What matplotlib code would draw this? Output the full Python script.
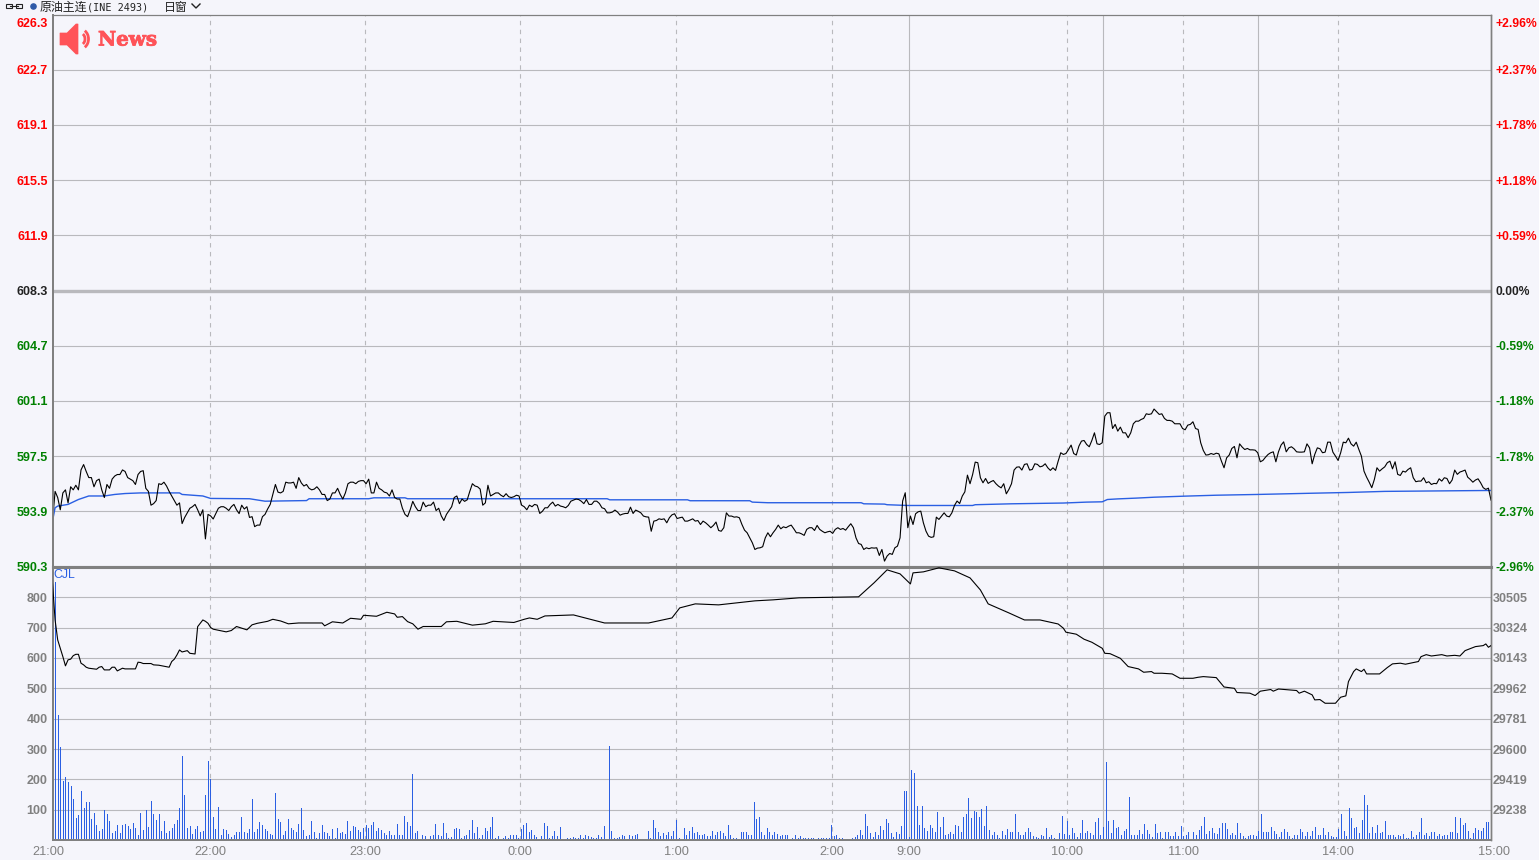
import numpy as np
import matplotlib
matplotlib.use('Agg')
import matplotlib.pyplot as plt
import matplotlib.patheffects as pe
from matplotlib.patches import Polygon, Arc, Rectangle, Circle
from matplotlib.transforms import ScaledTranslation

plt.rcParams['font.family'] = ['Liberation Sans', 'DejaVu Sans']

# ---- axis labels ----
price_ticks = [626.3, 622.7, 619.1, 615.5, 611.9, 608.3, 604.7, 601.1, 597.5, 593.9, 590.3]
pct_labels = ['+2.96%', '+2.37%', '+1.78%', '+1.18%', '+0.59%', '0.00%',
              '-0.59%', '-1.18%', '-1.78%', '-2.37%', '-2.96%']
vol_ticks = [100, 200, 300, 400, 500, 600, 700, 800]
oi_ticks = [29238, 29419, 29600, 29781, 29962, 30143, 30324, 30505]
time_minutes = [0, 60.9, 120.7, 180.4, 240.7, 300.7, 330.4, 391.4, 436.2, 495.8, 555]
time_labels = ['21:00', '22:00', '23:00', '0:00', '1:00', '2:00', '9:00', '10:00', '11:00', '14:00', '15:00']
dashed_minutes = [60.9, 120.7, 180.4, 240.7, 300.7, 391.4, 436.2, 495.8]
session_minutes = [330.4, 405.4, 465.2]

# ---- price, one value per minute ----
price_a = [593.26, 595.2, 594.8, 594.0, 595.1, 595.3, 594.45, 595.5, 595.3, 595.6,
           595.3, 596.6, 596.95, 596.5, 596.1, 596.1, 595.5, 595.9, 596.0, 595.3,
           594.8, 595.65, 595.4, 596.0, 596.2, 596.3, 596.3, 596.6, 596.5, 596.1,
           596.0, 595.9, 595.65, 596.3, 596.5, 596.55, 595.4, 595.2, 594.3, 594.4,
           594.6, 595.7, 595.65, 595.8, 595.55, 595.2, 594.9, 594.6, 594.3, 594.45,
           593.1, 593.5, 593.8, 594.1, 594.2, 594.35, 594.0, 593.6, 594.0, 592.1,
           593.7, 593.6, 593.4, 593.75, 594.1, 594.2, 594.2, 594.1, 593.95, 594.2,
           594.35, 594.0, 593.75, 594.3, 594.05, 594.2, 593.5, 593.55, 592.9, 593.0,
           593.0, 593.55, 593.7, 594.05, 594.35, 595.0, 595.65, 595.15, 595.1, 595.2,
           595.8, 595.75, 595.75, 595.8, 595.4, 596.1, 595.75, 595.55, 595.65, 595.4,
           595.3, 595.35, 595.5, 595.3, 595.0, 595.0, 594.6, 594.7, 595.1, 595.1,
           595.4, 595.0, 594.7, 595.1, 595.7, 595.8, 595.8, 595.7, 595.85, 595.9,
           595.9, 595.7, 596.0, 595.1, 595.1, 595.8, 595.4, 595.3, 595.15, 595.1,
           594.9, 595.3, 594.8, 594.7, 594.7, 594.1, 593.7, 593.55, 594.0, 594.55,
           594.2, 593.95, 593.95, 594.5, 594.2, 594.3, 594.3, 594.5, 593.95, 594.1,
           593.6, 593.3, 593.7, 593.95, 594.2, 594.8, 594.9, 594.4, 594.7, 594.55,
           594.65, 595.2, 595.7, 595.55, 595.5, 595.35, 594.3, 594.45, 595.6, 594.9,
           595.0, 595.1, 595.1, 594.95, 594.85, 595.05, 594.85, 594.8, 594.85, 594.95,
           594.9, 594.3, 594.2, 594.0, 594.3, 594.2, 594.35, 594.3]
price_b = [593.76, 593.9, 594.13, 594.13, 594.35, 594.5, 594.24, 594.35, 594.24, 594.2,
           594.13, 594.28, 594.56, 594.63, 594.7, 594.67, 594.56, 594.4, 594.67, 594.35,
           594.35, 594.56, 594.56, 594.41, 594.13, 594.07, 593.8, 593.8, 593.85, 593.98,
           593.85, 593.65, 593.72, 593.76, 593.76, 594.17, 593.76, 593.98, 593.9, 593.8,
           593.59, 593.54, 593.52, 592.6, 593.26, 593.3, 593.41, 593.37, 593.41, 593.15,
           593.48, 593.67, 593.74, 593.43, 593.48, 593.52, 593.26, 593.26, 593.33, 593.41,
           593.26, 593.3, 593.04, 593.26, 593.15, 593.0, 592.83, 592.98, 593.2, 592.65,
           592.6, 592.83, 593.8, 593.59, 593.59, 593.52, 593.54, 593.48, 593.04, 592.67,
           592.5, 592.17, 591.85, 591.41, 591.5, 591.52, 591.59, 592.17, 592.5, 592.24,
           592.5, 592.72, 593.0, 592.76, 592.89, 592.83, 592.93, 593.0, 592.76, 592.5,
           592.5, 592.43, 592.33, 592.72, 592.83, 592.83, 592.65, 592.98, 592.72, 592.6,
           592.5, 592.56, 592.6, 592.46, 592.72, 592.83, 592.72, 592.78, 592.67, 592.89,
           593.09, 592.83, 592.17, 591.8, 591.74, 591.41, 591.52, 591.46, 591.52, 591.5,
           591.52, 591.02, 591.41, 590.65, 590.98, 591.15, 591.09, 591.52, 591.63]
price_c = [592.17, 594.57, 595.11, 592.83, 593.59, 593.04, 593.74, 593.87, 593.91, 593.15,
           592.61, 592.28, 592.2, 592.24, 593.52, 593.37, 593.59, 593.8, 593.59, 593.54,
           593.8, 594.28, 594.57, 594.41, 594.89, 595.17, 596.26, 595.7, 596.3, 597.11,
           597.07, 596.09, 595.76, 596.04, 595.72, 595.83, 595.91, 595.7, 595.54, 595.43,
           595.7, 595.04, 595.33, 595.7, 596.59, 596.78, 596.8, 596.59, 596.96, 597.0,
           596.59, 596.63, 597.0, 596.96, 596.8, 596.85, 597.0, 596.74, 596.57, 596.74,
           596.57, 597.17, 597.72, 597.61, 597.67, 597.93, 598.22, 597.67, 597.57, 598.15,
           598.48, 598.52, 598.26, 598.11, 598.52, 599.02, 598.3, 598.26, 598.37]
price_d = [600.11, 600.33, 600.33, 599.3, 599.57, 599.13, 599.39, 599.02, 599.02, 598.7,
           599.02, 599.61, 599.78, 599.78, 599.89, 599.96, 600.26, 600.22, 600.26, 600.57,
           600.39, 600.22, 600.26, 599.96, 599.83, 599.83, 599.78, 599.61, 599.61, 599.61,
           599.3, 599.22, 599.52, 599.57, 599.74, 599.3, 599.24, 598.37, 597.87, 597.57,
           597.59, 597.67, 597.61, 597.69, 597.65, 597.17, 596.74, 597.39, 597.57, 598.0,
           598.13, 597.39, 598.3, 598.09, 597.93, 598.0, 597.91, 597.91, 597.89, 597.72,
           597.13, 597.22, 597.43, 597.61, 597.72, 597.78, 597.13, 597.78, 598.22, 598.43,
           597.78, 598.04, 598.11]
price_e = [597.98, 597.78, 597.76, 597.76, 597.78, 598.3, 598.04, 597.0, 597.61, 598.04,
           597.98, 597.72, 597.76, 598.41, 598.41, 597.76, 597.5, 597.22, 597.72, 598.41,
           598.37, 598.67, 598.3, 598.15, 598.41, 597.94, 597.5, 596.52, 596.13, 595.8,
           595.44, 595.98, 596.74, 596.52, 596.67, 596.8, 597.07, 597.17, 596.67, 597.13,
           596.31, 596.24, 596.52, 596.46, 596.63, 596.74, 596.09, 595.83, 595.87, 595.87,
           596.09, 595.76, 595.83, 595.65, 595.72, 595.7, 596.02, 595.87, 596.09, 596.04,
           595.7, 595.94, 596.59, 596.31, 596.46, 596.52, 596.59, 596.13, 595.98, 595.8,
           595.94, 596.02, 595.76, 595.44, 595.33, 595.41, 594.63]
price = price_a + price_b + price_c + price_d + price_e

# ---- average price line ----
avg_minutes = [0, 1, 2, 6, 10, 14, 20, 24, 28, 34, 49, 50, 58, 61, 76, 82, 98, 99, 122, 124,
               136, 137, 214, 215, 245, 246, 269, 270, 276, 312, 313, 321, 322, 330, 355, 356,
               370, 390, 399, 405, 407, 411, 418, 425, 437, 449, 465, 486, 500, 514, 555]
avg_price = [593.26, 594.13, 594.24, 594.35, 594.67, 594.9, 594.9, 595.0, 595.06, 595.1,
             595.1, 595.0, 594.9, 594.74, 594.72, 594.56, 594.6, 594.72, 594.72, 594.78,
             594.78, 594.72, 594.72, 594.65, 594.65, 594.59, 594.59, 594.5, 594.46, 594.46,
             594.39, 594.37, 594.33, 594.28, 594.28, 594.33, 594.39, 594.44, 594.5, 594.52,
             594.67, 594.71, 594.76, 594.82, 594.89, 594.95, 595.0, 595.08, 595.13, 595.2,
             595.26]

# ---- open interest (right scale) ----
oi_min_a = [0, 1, 2, 3, 4, 5, 6, 7, 8, 9, 10, 11, 12, 13, 14, 17, 18, 19, 20, 22,
            23, 24, 25, 27, 28, 32, 33, 34, 35, 38, 39, 41, 45, 46, 47, 48, 49, 50, 52, 53,
            55, 56, 57, 58, 59, 60, 61, 62, 65, 67, 69, 71, 73, 75, 77, 79, 83, 85, 88, 91,
            95, 104, 105, 108, 112, 115, 119, 120, 125, 129, 132, 133, 135, 137, 139, 141, 143, 150, 152, 156,
            162, 167, 170, 178, 182, 184, 187]
oi_val_a = [30589, 30370, 30251, 30201, 30151, 30096, 30132, 30136, 30157, 30165, 30165, 30112, 30102, 30088, 30082, 30076, 30088, 30092, 30072, 30072,
            30088, 30088, 30066, 30082, 30078, 30078, 30118, 30116, 30110, 30110, 30102, 30100, 30088, 30122, 30136, 30161, 30191, 30179, 30187, 30171,
            30167, 30330, 30350, 30370, 30362, 30350, 30325, 30315, 30305, 30299, 30307, 30331, 30321, 30311, 30341, 30350, 30362, 30374, 30364, 30347,
            30352, 30352, 30335, 30359, 30352, 30380, 30374, 30398, 30392, 30416, 30406, 30386, 30390, 30360, 30347, 30315, 30331, 30331, 30359, 30362,
            30339, 30347, 30362, 30355, 30374, 30382, 30374]
oi_min_b = [190, 201, 213, 230, 239, 242, 248, 257, 271, 278, 288, 311, 317, 322, 327, 331, 332, 336, 342, 348,
            354, 358, 361, 369, 375, 381, 388]
oi_val_b = [30394, 30400, 30352, 30352, 30382, 30442, 30466, 30460, 30484, 30490, 30502, 30508, 30592, 30669, 30645, 30585, 30651, 30657, 30681, 30663,
            30621, 30549, 30466, 30412, 30370, 30370, 30346]
oi_min_c = [390, 391, 395, 398, 401, 405, 406, 408, 412, 415, 419, 421, 424, 425, 428, 432, 435, 440, 442, 444,
            449, 452, 456, 457, 462, 464, 466, 470, 471, 473, 480, 481, 483, 486, 487, 489, 491, 495, 497, 499,
            500, 502, 503, 505, 506, 507, 512, 515, 517, 520, 522, 527, 528, 530, 532, 536, 538, 541, 543, 545,
            549, 552, 553, 554, 555]
oi_val_c = [30321, 30297, 30285, 30255, 30237, 30201, 30171, 30169, 30141, 30092, 30078, 30058, 30062, 30052, 30052, 30048, 30022, 30022, 30028, 30032,
            30026, 29970, 29962, 29937, 29933, 29919, 29945, 29955, 29945, 29958, 29949, 29933, 29945, 29923, 29893, 29895, 29873, 29873, 29909, 29917,
            30002, 30062, 30078, 30062, 30076, 30048, 30048, 30086, 30108, 30112, 30106, 30122, 30151, 30163, 30155, 30163, 30155, 30159, 30155, 30187,
            30211, 30217, 30227, 30207, 30217]
oi_minutes = oi_min_a + oi_min_b + oi_min_c
oi_values = oi_val_a + oi_val_b + oi_val_c

# ---- volume, one bar per minute ----
vol_a = [80, 850, 412, 305, 195, 207, 190, 178, 135, 72, 82, 162, 105, 125, 125, 70, 90, 50, 30, 35,
         98, 85, 62, 22, 30, 50, 22, 48, 52, 45, 35, 55, 40, 15, 88, 32, 98, 42, 128, 85,
         65, 85, 30, 62, 22, 30, 40, 52, 65, 105, 278, 148, 40, 45, 20, 35, 45, 25, 30, 148,
         262, 200, 75, 35, 108, 15, 35, 33, 20, 10, 18, 25, 25, 75, 25, 22, 35, 135, 25, 35,
         60, 48, 35, 30, 20, 15, 155, 68, 58, 15, 30, 68, 38, 32, 25, 52, 105, 32, 12, 15,
         62, 25, 5, 22, 48, 25, 22, 12, 35, 5, 38, 22, 25, 20, 62, 30, 45, 42, 32, 25,
         40, 48, 40, 48, 58, 30, 38, 32, 22, 15, 30, 15, 18, 52, 15, 15, 78, 58, 45, 218,
         22, 30, 3, 15, 12, 3, 12, 18, 52, 18, 12, 55, 22, 8, 10, 35, 38, 35, 8, 12,
         15, 32, 65, 22, 42, 8, 15, 38, 30, 42, 75, 8, 12, 3, 8, 12, 5, 15, 18, 15, 8]
vol_b = [35, 50, 55, 28, 33, 15, 10, 3, 12, 55, 45, 8, 12, 30, 12, 42, 3, 3, 8, 8,
         10, 8, 8, 15, 8, 15, 12, 10, 8, 8, 15, 10, 45, 3, 310, 30, 8, 8, 10, 18,
         12, 3, 18, 12, 15, 20, 3, 3, 3, 30, 8, 65, 38, 25, 12, 22, 18, 25, 12, 30,
         65, 8, 3, 38, 15, 30, 42, 22, 25, 15, 15, 20, 12, 12, 30, 18, 28, 30, 22, 12,
         48, 18, 8, 5, 3, 25, 25, 25, 18, 18, 125, 68, 75, 25, 15, 38, 28, 18, 28, 20,
         12, 15, 15, 18, 3, 8, 18, 8, 12, 8, 8, 8, 8, 8, 3, 8, 8, 8, 8, 5,
         48, 12, 15, 5, 8, 3, 3, 3, 8, 10, 18, 33, 15, 85, 45, 22, 10, 25, 15, 45,
         33, 70, 55, 22, 10, 28, 20, 45, 162, 162, 10, 232, 222, 112, 48, 112, 38, 30, 48, 38,
         25, 92, 42, 75, 18, 20, 25, 20, 50, 45, 25, 75, 85, 140, 72, 95, 92, 75, 102, 45,
         112, 33, 18, 28, 18, 5, 30, 15, 35, 25, 28, 85, 25, 18, 18, 25, 38]
vol_c = [25, 12, 10, 5, 15, 12, 38, 10, 15, 5, 3, 22, 80, 20, 62, 15, 38, 22, 10, 22,
         65, 22, 30, 22, 15, 60, 72, 15, 42, 258, 62, 22, 65, 38, 42, 15, 30, 35, 142, 15,
         15, 18, 33, 20, 52, 33, 20, 10, 52, 22, 28, 8, 25, 28, 12, 12, 25, 12, 45, 12,
         15, 28, 3, 25, 18, 33, 45, 75, 20, 30, 38, 22, 20, 38, 55, 55, 35, 15, 22, 18,
         55, 22, 12, 5, 12, 15, 15, 12, 30, 85, 28, 28, 28, 42, 30, 20, 10, 25, 35, 28,
         12, 8, 15, 15, 35, 25, 12, 28, 12, 30, 42, 15, 15, 38, 15, 25, 12, 10, 10, 35,
         85, 30, 12, 105, 72, 38, 42, 22, 65, 148, 115, 22, 42, 22, 48, 22, 25, 62, 18, 15,
         18, 10, 15, 12, 20, 8, 5, 30, 10, 18, 25, 72, 18, 22, 12, 28, 28, 12, 20, 12,
         15, 15, 28, 25, 75, 22, 72, 50, 55, 30, 8, 22, 38, 32, 30, 38, 60, 60, 181]
volume = vol_a + vol_b + vol_c

price_x = np.arange(len(price))
vol_x = np.linspace(0, 555, len(volume))

BG = '#f5f5fb'
GRID = '#b9b9bd'
AXIS = '#808080'
BLUE = '#2a5fe3'
W, H = 1539, 860

fig = plt.figure(figsize=(W / 100, H / 100), dpi=100, facecolor=BG)

def make_axes(left, top, right, bottom):
    return fig.add_axes([left / W, 1 - bottom / H, (right - left) / W, (bottom - top) / H], facecolor=BG)

ax = make_axes(52.5, 14.6, 1491, 566.5)
ax2 = make_axes(52.5, 567, 1491, 840)

# price panel
ax.set_xlim(0, 555)
ax.set_ylim(590.3, 626.3)
ax.set_yticks(price_ticks)
ax.set_yticklabels([f'{v:.1f}' for v in price_ticks], fontsize=9, fontweight='bold')
ax.set_xticks([])
ax.tick_params(axis='y', length=0, pad=3.5)
for v in price_ticks[1:-1]:
    ax.axhline(v, color=GRID, lw=0.8 if v != 608.3 else 2.4, zorder=1)
for m in dashed_minutes:
    ax.axvline(m, color=GRID, lw=0.8, ls=(0, (4, 4)), zorder=1)
    ax2.axvline(m, color=GRID, lw=0.8, ls=(0, (4, 4)), zorder=1)
for m in session_minutes:
    ax.axvline(m, color=GRID, lw=0.8, zorder=1)
    ax2.axvline(m, color=GRID, lw=0.8, zorder=1)
ax.plot(avg_minutes, avg_price, color=BLUE, lw=1.0, zorder=3)
ax.plot(price_x, price, color='black', lw=0.8, zorder=4)

axr = ax.twinx()
axr.set_ylim(590.3, 626.3)
axr.set_yticks(price_ticks)
axr.set_yticklabels(pct_labels, fontsize=8.7, fontweight='bold')
axr.tick_params(axis='y', length=0, pad=3.5)

def colour_for(v):
    if v > 608.3:
        return '#ff0000'
    if v < 608.3:
        return '#008000'
    return '#222222'

for lab, v in zip(ax.get_yticklabels(), price_ticks):
    lab.set_color(colour_for(v))
for lab, v in zip(axr.get_yticklabels(), price_ticks):
    lab.set_color(colour_for(v))
# the top label hangs under the frame line
down = ScaledTranslation(0, -8 / 100, fig.dpi_scale_trans)
for lab in (ax.get_yticklabels()[0], axr.get_yticklabels()[0]):
    lab.set_transform(lab.get_transform() + down)

for a in (ax, axr):
    a.spines['left'].set_color(AXIS)
    a.spines['left'].set_linewidth(1.4)
    a.spines['right'].set_color(AXIS)
    a.spines['right'].set_linewidth(1.0)
    a.spines['top'].set_color(AXIS)
    a.spines['top'].set_linewidth(0.8)
    a.spines['bottom'].set_color(AXIS)
    a.spines['bottom'].set_linewidth(2.2)

# volume panel
ax2.set_xlim(0, 555)
ax2.set_ylim(0, 900)
ax2.set_yticks(vol_ticks)
ax2.set_yticklabels([str(v) for v in vol_ticks], fontsize=9, fontweight='bold', color=AXIS)
ax2.tick_params(axis='y', length=0, pad=3.5)
ax2.tick_params(axis='x', length=0, pad=4)
for v in vol_ticks:
    ax2.axhline(v, color=GRID, lw=0.8, zorder=1)
ax2.vlines(vol_x, 0, volume, color=BLUE, lw=0.72, antialiased=False, zorder=3)
ax2.set_xticks(time_minutes)
ax2.set_xticklabels(time_labels, fontsize=9.2, color=AXIS)
first = ax2.get_xticklabels()[0]
first.set_transform(first.get_transform() + ScaledTranslation(-4 / 100, 0, fig.dpi_scale_trans))
last = ax2.get_xticklabels()[-1]
last.set_transform(last.get_transform() + ScaledTranslation(3 / 100, 0, fig.dpi_scale_trans))
ax2.text(0.5, 875, 'CJL', color=BLUE, fontsize=8.8, va='center', ha='left')

axo = ax2.twinx()
axo.set_ylim(29057, 30686)
axo.set_yticks(oi_ticks)
axo.set_yticklabels([str(v) for v in oi_ticks], fontsize=9, fontweight='bold', color=AXIS)
axo.tick_params(axis='y', length=0, pad=1.5)
axo.plot(oi_minutes, oi_values, color='black', lw=0.8, zorder=4)

for a in (ax2, axo):
    a.spines['top'].set_visible(False)
    a.spines['left'].set_color(AXIS)
    a.spines['left'].set_linewidth(1.4)
    a.spines['right'].set_color(AXIS)
    a.spines['right'].set_linewidth(1.0)
    a.spines['bottom'].set_color(AXIS)
    a.spines['bottom'].set_linewidth(1.4)

# header bar and news badge, in pixel coordinates
top = fig.add_axes([0, 0, 1, 1], facecolor='none', zorder=10)
top.set_xlim(0, W)
top.set_ylim(H, 0)
top.axis('off')

top.add_patch(Rectangle((6, 4), 6, 4, fill=False, ec='#222222', lw=0.8))
top.add_patch(Rectangle((16, 4), 6, 4, fill=False, ec='#222222', lw=0.8))
top.plot([10, 18], [6, 6], color='#222222', lw=0.8)
top.add_patch(Circle((33.5, 6.5), 2.6, color='#2f5aa8'))
cjk = ['Noto Sans CJK SC', 'DejaVu Sans']
top.text(40, 7, '原油主连', fontsize=8.6, family=cjk, va='center', color='#222222')
top.text(87, 7, '(INE 2493)', fontsize=7.3, family='DejaVu Sans Mono', va='center', color='#222222')
top.text(164, 7, '日窗', fontsize=8.6, family=cjk, va='center', color='#222222')
top.plot([192, 196, 200], [4, 8, 4], color='#222222', lw=1.0)

RED = '#ff5358'
top.add_patch(Polygon([(60, 33), (67, 33), (76, 24), (78, 24), (78, 54), (76, 54), (67, 45), (60, 45)],
                      closed=True, fc=RED, ec=RED, lw=0.5))
top.add_patch(Arc((80, 39), 10, 12, theta1=-60, theta2=60, color=RED, lw=2.0))
top.add_patch(Arc((80, 39), 17, 20, theta1=-60, theta2=60, color=RED, lw=2.0))
news = top.text(98, 39.5, 'News', fontsize=14.3, family='DejaVu Serif', fontweight='bold',
                va='center', ha='left', color=RED)
news.set_path_effects([pe.withStroke(linewidth=0.6, foreground=RED)])

fig.savefig('out.png', dpi=100, facecolor=BG)
